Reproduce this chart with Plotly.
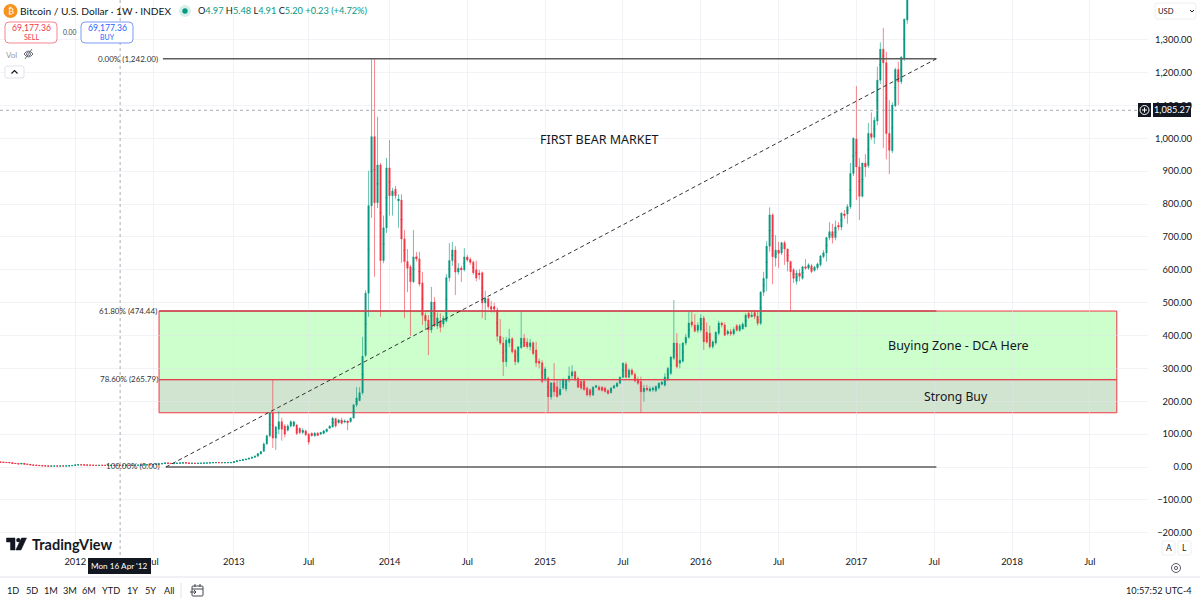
import pandas as pd
import plotly.graph_objects as go

W, H = 1200, 602
GREEN, RED = "#089981", "#f23645"
INK = "#131722"
FONT = "Lato"
NOTE_FONT = "Noto Sans"

# Weekly BTC index candles, grouped by stretch of history.
open_early = [15,14.5,14,13.7,13.1,11,10.5,9.2,11.2,8.5,8.1,6.1,5.3,5.1,4.2,3.5,3.2,2.6,3.0,3.0,2.9,3.2,3.1,3.2,3.9,
              4.7,6.3,7,6.5,6,5.6,5.5,5,4.9,5.1,5,4.9,5,5.1,5,5.3,5.1,5.2,5.2,5.1,5.1,5.5,5.6,6.4,6.6,7,6.9,7.6,8.8,9.3,10.9,
              12.4,11,10.3,10.8,11.6,12,12.6,12.4,11.1,11.4,11,11.2,11.6,12.1,12.2,13,13.4,13.5,13.3,13.3,13.4,13.4]
high_early = [16,15,14.5,14,13.5,11.5,11,11.8,12,9,8.5,6.5,5.8,5.4,4.5,3.8,3.4,3.2,3.3,3.2,3.4,3.4,3.4,4,5,
              6.6,7.3,7.2,6.8,6.2,5.8,5.6,5.2,5.2,5.3,5.2,5.1,5.2,5.3,5.3,5.5,5.4,5.3,5.4,5.3,5.6,5.8,6.6,6.8,7.2,7.2,7.8,9,9.6,11,
              13,12.6,11.2,11,11.8,12.3,13,12.8,12.5,11.6,11.5,11.4,11.8,12.3,12.5,13.2,13.7,13.8,13.7,13.6,13.6,13.6,13.7]
low_early = [14,13.6,13,12.8,10.8,10,9,9,8.2,7.8,5.8,5,4.8,4,3.2,3,2.3,2.5,2.8,2.8,2.8,3,3,3.1,3.8,
             4.6,6.1,6.2,5.8,5.4,5.4,4.9,4.8,4.7,4.9,4.8,4.8,4.8,4.9,4.9,5,5,5,5,5,5,5.4,5.5,6.3,6.5,6.7,6.8,7.5,8.6,9,10.8,
             9,10,10.2,10.7,11.5,11.9,12.2,10.5,11,10.8,10.9,11.1,11.5,11.9,12.1,12.9,13.2,13,13.1,13.2,13.3,13.2]
close_early = [14.5,14,13.7,13.1,11,10.5,9.2,11.2,8.5,8.1,6.1,5.3,5.1,4.2,3.5,3.2,2.6,3.0,3.0,2.9,3.2,3.1,3.2,3.9,4.7,
               6.3,7,6.5,6,5.6,5.5,5,4.9,5.1,5,4.9,5,5.1,5,5.3,5.1,5.2,5.2,5.1,5.1,5.5,5.6,6.4,6.6,7,6.9,7.6,8.8,9.3,10.9,
               12.4,11,10.3,10.8,11.6,12,12.6,12.4,11.1,11.4,11,11.2,11.6,12.1,12.2,13,13.4,13.5,13.3,13.3,13.4,13.4,13.4]

open_2013 = [13.5,16,19,20.5,22,24,27,30,33,40,48,70,95,164,88,115,138,125,112,125,125,128,118,105,110,100,103,95,103,100,102,108,118,122,147,135,143,137,140,138,149,189,202]
high_2013 = [17,20,21.5,23,25,28,31,35,42,49,75,98,166,267,125,170,150,130,130,142,140,130,120,118,113,103,105,106,106,107,112,118,128,153,150,146,150,145,142,151,192,243,243]
low_2013 = [13,15.5,18.5,20,21,23.5,26,29,32,38,46,68,90,58,52,100,80,90,108,120,122,97,100,100,95,68,93,92,94,98,100,105,116,120,120,132,130,133,112,135,147,183,200]
close_2013 = [16,19,20.5,22,24,27,30,33,41,47,70,95,164,88,122,138,115,100,125,138,138,102,105,112,98,76,95,103,96,105,110,115,124,148,125,143,133,140,135,149,189,210,226]

open_bear = [226,340,529,795,1005,804,919,628,728,910,825,845,810,812,694,625,609,564,640,633,560,462,447,417,502,429,445,435,445,576,628,660,593,605,600,639,632,623,600,590,591,499,512,488,488,478,398,377,320,377,390,355,320,363,392,380,366,378,356]
high_bear = [396,538,901,1242,1242,1066,925,765,940,995,849,855,830,830,721,663,615,721,654,655,593,470,462,548,517,470,468,460,587,681,685,672,620,612,666,645,638,628,628,600,595,536,516,505,500,485,450,395,395,420,395,360,366,472,405,392,390,382,381]
low_bear = [220,335,457,758,579,788,457,620,712,765,765,815,728,621,453,532,399,560,625,550,432,417,340,408,425,420,410,425,440,565,612,523,585,563,595,625,615,585,565,570,453,447,480,470,470,383,372,277,305,365,345,310,315,360,365,360,355,340,305]
close_bear = [337,529,795,1005,804,919,628,728,910,825,840,825,815,694,625,605,564,639,633,557,462,445,417,502,429,453,425,453,576,628,660,593,605,600,639,630,622,591,575,585,499,514,488,480,480,398,377,320,386,390,351,320,366,392,366,366,378,345,317]

open_base = [322,317,265,270,213,256,244,219,240,237,265,277,290,270,260,262,240,235,219,243,243,243,240,233,226,240,245,255,273,313,273,295,282,267,260,229,240,232,235,232,240,252,249,265,285,331,377,316,322,377,395,442,432,415,417,453,410,407,366,377,407,438,432,405,412,405,430,415,420,427,468,458,470,459,437]
high_base = [330,325,305,275,256,316,268,268,270,267,305,310,293,275,265,268,245,238,246,250,248,246,245,236,243,250,258,276,318,320,300,300,288,275,275,250,250,245,245,248,258,262,285,305,336,508,407,375,380,405,472,472,465,440,465,460,440,430,385,412,445,442,440,418,420,425,435,435,440,468,475,472,478,475,535]
low_base = [300,255,260,168,205,215,212,218,235,230,258,265,262,240,235,232,215,212,216,240,232,230,226,220,224,238,243,252,270,270,270,278,258,250,165,199,230,228,228,228,236,248,245,262,280,325,300,300,318,370,390,425,410,408,410,356,375,360,360,372,400,425,398,400,398,400,412,412,418,425,450,455,450,430,432]
close_base = [316,260,298,214,256,229,214,237,265,265,277,290,265,243,240,236,219,219,243,247,235,233,230,224,240,247,255,273,316,273,295,282,262,255,229,240,235,238,240,245,255,258,274,300,335,377,305,325,377,395,438,432,413,432,453,381,380,366,381,410,438,432,401,413,405,418,416,430,435,462,455,462,458,437,532]

open_bull = [532,574,672,767,636,660,651,682,663,625,600,565,590,574,609,605,612,598,606,615,640,651,698,716,698,735,730,770,770,792,893,998,913,824,925,917,1015,1003,1053,1177,1271,1230,1015,962,1099,1209,1172,1244,1360]
high_bull = [594,687,790,772,705,685,685,688,665,628,605,600,602,612,633,620,618,612,622,645,660,700,745,740,750,745,775,782,800,925,1003,1159,940,925,952,1047,1079,1065,1218,1292,1336,1263,1116,1110,1215,1233,1250,1365,1600]
low_bull = [520,535,655,556,610,605,645,615,595,475,560,555,565,570,600,600,590,595,600,610,635,625,690,680,690,720,720,755,740,785,885,812,751,820,883,910,995,983,1040,1165,971,936,891,955,1095,1101,1165,1235,1348]
close_bull = [574,672,767,640,660,650,682,663,625,594,574,590,580,609,605,615,595,608,618,642,652,698,716,698,730,730,772,765,792,893,1000,913,824,925,913,1015,1003,1055,1177,1271,1230,1015,964,1101,1209,1172,1247,1362,1550]

opens = open_early + open_2013 + open_bear + open_base + open_bull
highs = high_early + high_2013 + high_bear + high_base + high_bull
lows = low_early + low_2013 + low_bear + low_base + low_bull
closes = close_early + close_2013 + close_bear + close_base + close_bull
assert len(opens) == len(highs) == len(lows) == len(closes)
weeks = pd.date_range("2011-07-11", periods=len(opens), freq="7D")

# Fibonacci retracement and zone levels.
fib_top, fib_618, fib_786, fib_zero = 1242.00, 474.44, 265.79, 0.00
zone_floor = 165
last_price = 1085.27
price_ticks = [-200, -100, 0, 100, 200, 300, 400, 500, 600, 700, 800, 900, 1000, 1100, 1200, 1300]
date_ticks = ["2012-01-02","2012-07-02","2013-01-07","2013-07-01","2014-01-06","2014-07-07","2015-01-05",
              "2015-07-06","2016-01-04","2016-07-04","2017-01-02","2017-07-03","2018-01-01","2018-07-02"]
date_labels = ["2012","Jul","2013","Jul","2014","Jul","2015","Jul","2016","Jul","2017","Jul","2018","Jul"]
range_buttons = [("1D",13),("5D",32),("1M",51),("3M",70),("6M",89),("YTD",111),("1Y",132),("5Y",150),("All",169)]


def px(x):
    return x / W


def py(y):
    return 1 - y / H


fig = go.Figure()

# Wicks first, in a softer tint, with each box collapsed inside its body.
mid_down = [(a + b) / 2 - 0.01 * (1 if b >= a else -1) for a, b in zip(opens, closes)]
mid_up = [(a + b) / 2 + 0.01 * (1 if b >= a else -1) for a, b in zip(opens, closes)]
fig.add_trace(go.Candlestick(
    x=weeks, open=mid_down, high=highs, low=lows, close=mid_up, whiskerwidth=0,
    increasing=dict(line=dict(color="rgba(8,153,129,0.6)", width=1), fillcolor="rgba(8,153,129,0)"),
    decreasing=dict(line=dict(color="rgba(242,54,69,0.6)", width=1), fillcolor="rgba(242,54,69,0)"),
    showlegend=False, hoverinfo="skip",
))
# Solid bodies on top.
fig.add_trace(go.Candlestick(
    x=weeks, open=opens, close=closes,
    high=[max(a, b) for a, b in zip(opens, closes)], low=[min(a, b) for a, b in zip(opens, closes)],
    whiskerwidth=0,
    increasing=dict(line=dict(color=GREEN, width=0.4), fillcolor=GREEN),
    decreasing=dict(line=dict(color=RED, width=0.4), fillcolor=RED),
    showlegend=False, hoverinfo="skip",
))

shapes = []


def data_rect(x0, x1, y0, y1, fill, line, width=1):
    shapes.append(dict(type="rect", xref="x", yref="y", x0=x0, x1=x1, y0=y0, y1=y1, fillcolor=fill,
                       line=dict(color=line, width=width), layer="below"))


def data_line(x0, x1, y0, y1, color, width=1, dash="solid"):
    shapes.append(dict(type="line", xref="x", yref="y", x0=x0, x1=x1, y0=y0, y1=y1,
                       line=dict(color=color, width=width, dash=dash)))


def page_rect(x0, y0, x1, y1, fill="rgba(0,0,0,0)", line="rgba(0,0,0,0)", width=1):
    shapes.append(dict(type="rect", xref="paper", yref="paper", x0=px(x0), x1=px(x1), y0=py(y0), y1=py(y1),
                       fillcolor=fill, line=dict(color=line, width=width)))


def page_round(x0, y0, x1, y1, line, r=3, fill="#ffffff", width=1):
    p = (f"M{px(x0+r)},{py(y0)} L{px(x1-r)},{py(y0)} Q{px(x1)},{py(y0)} {px(x1)},{py(y0+r)} "
         f"L{px(x1)},{py(y1-r)} Q{px(x1)},{py(y1)} {px(x1-r)},{py(y1)} L{px(x0+r)},{py(y1)} "
         f"Q{px(x0)},{py(y1)} {px(x0)},{py(y1-r)} L{px(x0)},{py(y0+r)} Q{px(x0)},{py(y0)} {px(x0+r)},{py(y0)} Z")
    shapes.append(dict(type="path", xref="paper", yref="paper", path=p, fillcolor=fill, line=dict(color=line, width=width)))


def page_circle(cx, cy, r, fill="rgba(0,0,0,0)", line="rgba(0,0,0,0)", width=1):
    shapes.append(dict(type="circle", xref="paper", yref="paper", x0=px(cx-r), x1=px(cx+r), y0=py(cy+r), y1=py(cy-r),
                       fillcolor=fill, line=dict(color=line, width=width)))


def page_path(points, color=None, fill="rgba(0,0,0,0)", width=1, close=False):
    d = "M" + " L".join(f"{px(x)},{py(y)}" for x, y in points) + (" Z" if close else "")
    shapes.append(dict(type="path", xref="paper", yref="paper", path=d, fillcolor=fill,
                       line=dict(color=color or "rgba(0,0,0,0)", width=width)))


# Buying zones sit behind the candles.
data_rect("2012-07-16", "2018-09-03", fib_786, fib_618, "#ccffcc", "#f23645")
data_rect("2012-07-16", "2018-09-03", zone_floor, fib_786, "#d1e4d0", "#f23645")

# Retracement levels.
data_line("2012-07-25", "2017-07-08", fib_top, fib_top, "#5d5d5d", 1.4)
data_line("2012-07-16", "2017-07-08", fib_618, fib_618, "#c8484f", 1.6)
data_line("2012-07-16", "2018-09-03", fib_786, fib_786, "#e2444f", 1.2)
data_line("2012-08-01", "2017-07-08", fib_zero, fib_zero, "#5d5d5d", 1.4)
data_line("2012-08-01", "2017-07-08", fib_zero, fib_top, "#333333", 1, "4px,3px")

# Crosshair.
data_line("2012-04-16", "2012-04-16", -267.7, 1420.8, "#a9acb5", 1, "3px,3px")
shapes.append(dict(type="line", xref="paper", yref="y", x0=0, x1=px(1138), y0=last_price, y1=last_price,
                   line=dict(color="#a9acb5", width=1, dash="3px,3px")))

# Frame of the time scale.
page_path([(0, 577), (1200, 577)], "#e0e3eb")
page_path([(181, 583), (181, 598)], "#e0e3eb")

# Order buttons and legend controls.
page_circle(10.5, 11, 7, "#f7931a")
page_circle(185, 11, 6, "#d5f0ea")
page_circle(185, 11, 2.7, GREEN)
page_round(5, 22, 57, 43, "#f7848e", 4)
page_round(81, 22, 133, 43, "#7b9bf5", 4)
shapes.append(dict(type="path", xref="paper", yref="paper",
                   path=f"M{px(24)},{py(54)} Q{px(28.5)},{py(48)} {px(33)},{py(54)} Q{px(28.5)},{py(60)} {px(24)},{py(54)} Z",
                   line=dict(color="#6a6d78", width=1), fillcolor="rgba(0,0,0,0)"))
page_circle(28.5, 54, 2, line="#6a6d78")
page_path([(25, 59), (32, 49)], "#6a6d78")
page_round(5, 66, 24, 78, "#e0e3eb", 2)
page_path([(11.5, 73.5), (14.5, 70.5), (17.5, 73.5)], INK, width=1.2)
page_round(1155, 3, 1196, 19, "#eceef2", 3)
page_path([(1190, 10), (1192, 12), (1194, 10)], INK)

# Price tag of the crosshair.
page_rect(1138, 103, 1151, 117, INK)
page_circle(1144.5, 110, 4.5, line="#ffffff")
page_path([(1144.5, 107.5), (1144.5, 112.5)], "#ffffff")
page_path([(1142, 110), (1147, 110)], "#ffffff")
page_rect(1153, 103, 1191, 117, INK)

# Date tag of the crosshair.
page_rect(88, 558, 151, 574, INK)

# Wordmark glyph.
page_path([(6.5, 538), (15, 538), (15, 550), (10.5, 550), (10.5, 542), (6.5, 542)], INK, INK, 0.5, True)
page_circle(18.3, 540.2, 2.1, INK)
page_path([(21.5, 538), (26.5, 538), (21, 550), (15.8, 550)], INK, INK, 0.5, True)

# Scale controls.
page_round(1162, 541, 1175, 555, "#eceef2", 2)
page_round(1178, 541, 1191, 555, "#eceef2", 2)
page_circle(1176, 568, 4.5, line="#555964")
page_circle(1176, 568, 1.6, line="#555964")

# Calendar button.
page_round(192, 586, 203, 596, "#434651", 1, fill="rgba(0,0,0,0)")
page_path([(192, 589), (203, 589)], "#434651")
page_path([(195, 584), (195, 587)], "#434651")
page_path([(200, 584), (200, 587)], "#434651")
page_path([(190, 592), (196, 592)], "#434651")
page_path([(194, 590), (196, 592), (194, 594)], "#434651")

annotations = []


def label(x, y, text, size=10, color=INK, anchor="left", family=FONT):
    annotations.append(dict(xref="paper", yref="paper", x=px(x), y=py(y), text=text, showarrow=False,
                            xanchor=anchor, yanchor="middle", borderpad=0,
                            font=dict(family=family, size=size, color=color)))


def teal(v):
    return f"<span style='color:{GREEN}'>{v}</span>"


label(19, 11, "Bitcoin / U.S. Dollar · 1W · INDEX", 10.2)
label(197, 11, f"O{teal('4.97')} H{teal('5.48')} L{teal('4.91')} C{teal('5.20')} {teal('+0.23 (+4.72%)')}", 9.2)
label(10.5, 11, "₿", 9, "#ffffff", "center", "DejaVu Sans")
label(31, 28, "69,177.36", 8.6, "#f23645", "center")
label(31, 37, "SELL", 7, "#f23645", "center")
label(107, 28, "69,177.36", 8.6, "#2962ff", "center")
label(107, 37, "BUY", 7, "#2962ff", "center")
label(69, 32, "0.00", 6.8, "#434651", "center")
label(5, 55, "Vol", 8, "#9598a1")
label(1157, 11, "USD", 7.6, INK)
label(159, 59, "0.00% (1,242.00)", 8, "#333333", "right")
label(158, 311, "61.80% (474.44)", 8, "#333333", "right")
label(159, 379, "78.60% (265.79)", 8, "#333333", "right")
label(161, 466, "100.00% (0.00)", 8, "#333333", "right")
label(599, 139, "FIRST BEAR MARKET", 12.5, INK, "center", NOTE_FONT)
label(958, 345, "Buying Zone - DCA Here", 12.5, INK, "center", NOTE_FONT)
label(955.5, 396, "Strong Buy", 12.2, INK, "center", NOTE_FONT)
label(1172, 110, f"{last_price:,.2f}", 9.2, "#ffffff", "center")
label(119.5, 566, "Mon 16 Apr '12", 8.2, "#ffffff", "center")
label(31, 544, "<b>TradingView</b>", 14.5, INK)
for text, x in range_buttons:
    label(x, 590, text, 9.2, INK, "center")
label(1193, 590, "10:57:52 UTC-4", 9.2, INK, "right")
label(1168.5, 548, "A", 8.5, INK, "center")
label(1184.5, 548, "L", 8.5, INK, "center")

GRID = "rgba(225,228,235,0.45)"
fig.update_layout(
    width=W, height=H, margin=dict(l=0, r=0, t=0, b=0),
    paper_bgcolor="#ffffff", plot_bgcolor="#ffffff",
    font=dict(family=FONT, size=9.4, color=INK),
    shapes=shapes, annotations=annotations,
    xaxis=dict(
        type="date", domain=[0, 1148 / W], range=["2011-07-10", "2018-11-15"], rangeslider=dict(visible=False),
        tickmode="array", tickvals=date_ticks, ticktext=date_labels, showgrid=True, gridcolor=GRID,
        zeroline=False, showline=False, ticks="", tickfont=dict(size=9.4, color=INK), anchor="y",
    ),
    yaxis=dict(
        domain=[1 - 555 / H, 1], range=[-267.7, 1420.8], anchor="free", position=1192 / W, side="left",
        tickmode="array", tickvals=price_ticks, ticktext=[f"{v:,.2f}".replace("-", "−") for v in price_ticks],
        showgrid=True, gridcolor=GRID, zeroline=False, showline=False, ticks="",
        tickfont=dict(size=9.4, color=INK),
    ),
)

fig.write_html("out.html")
